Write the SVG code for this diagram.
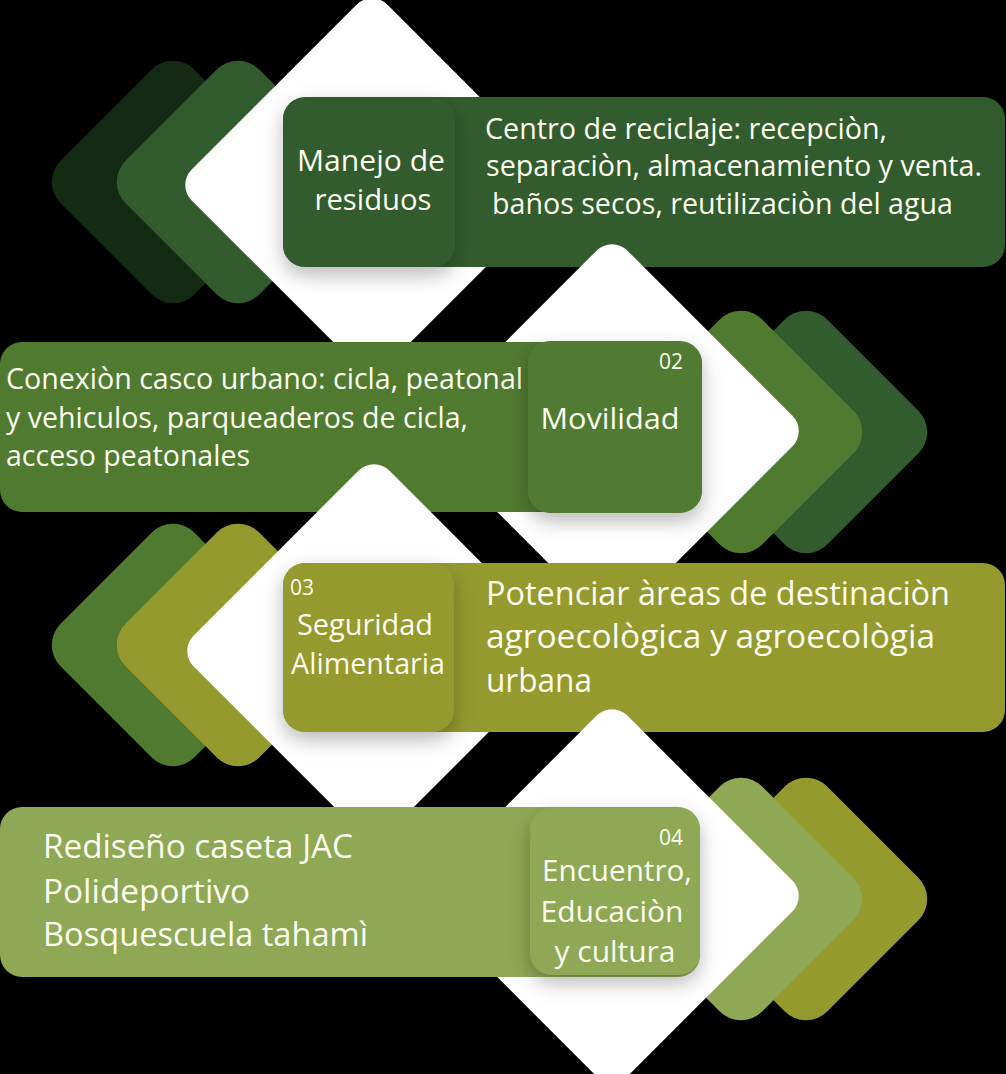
<svg xmlns="http://www.w3.org/2000/svg" width="1006" height="1074" viewBox="0 0 1006 1074">
<defs>
<style>
.t{font-family:"Open Sans","Noto Sans","Liberation Sans",sans-serif;fill:#fbfbee}
.d{font-size:29px}
.d2{font-size:32px}
.h{font-size:29px;text-anchor:middle}
.n{font-size:21px}
.white{fill:#ffffff}
.g0{fill:#142a13}
.g1{fill:#335c2e}
.g2{fill:#517a31}
.g3{fill:#949a2e}
.g4{fill:#8fa855}
</style>
<filter id="sh" x="-30%" y="-30%" width="160%" height="170%">
<feDropShadow dx="0" dy="8" stdDeviation="10" flood-color="#000" flood-opacity="0.28"/>
</filter>
<rect id="chev" x="-94.5" y="-94.5" width="189" height="189" rx="30"/>
<rect id="dia" x="-138.5" y="-138.5" width="277" height="277" rx="22"/>
</defs>
<rect width="1006" height="1074" fill="#000"/>

<g id="row1">
<use href="#chev" class="g0" transform="translate(173,182) rotate(45)"/>
<use href="#chev" class="g1" transform="translate(238,182) rotate(45)"/>
<use href="#dia" class="white" transform="translate(372,185) rotate(45)"/>
<g id="desc1">
<rect x="283" y="97" width="722" height="170" rx="22" class="g1"/>
<text class="t d" x="485" y="139" textLength="402" lengthAdjust="spacingAndGlyphs">Centro de reciclaje: recepciòn,</text>
<text class="t d" x="486" y="176" textLength="496" lengthAdjust="spacingAndGlyphs">separaciòn, almacenamiento y venta.</text>
<text class="t d" x="492" y="214" textLength="461" lengthAdjust="spacingAndGlyphs">baños secos, reutilizaciòn del agua</text>
</g>
<g id="title1">
<rect x="283" y="98" width="172" height="169" rx="22" class="g1" filter="url(#sh)"/>
<text class="t h" x="371" y="171" textLength="148" lengthAdjust="spacingAndGlyphs">Manejo de</text>
<text class="t h" x="373" y="210" textLength="117" lengthAdjust="spacingAndGlyphs">residuos</text>
</g>
</g>

<g id="row2">
<use href="#chev" class="g1" transform="translate(806,432) rotate(45)"/>
<use href="#chev" class="g2" transform="translate(741,432) rotate(45)"/>
<use href="#dia" class="white" transform="translate(612,431) rotate(45)"/>
<g id="desc2">
<rect x="0" y="342" width="702" height="170" rx="22" class="g2"/>
<text class="t d" x="6" y="389" textLength="517" lengthAdjust="spacingAndGlyphs">Conexiòn casco urbano: cicla, peatonal</text>
<text class="t d" x="6" y="428" textLength="462" lengthAdjust="spacingAndGlyphs">y vehiculos, parqueaderos de cicla,</text>
<text class="t d" x="6" y="466" textLength="244" lengthAdjust="spacingAndGlyphs">acceso peatonales</text>
</g>
<g id="title2">
<rect x="528" y="341" width="174" height="172" rx="22" class="g2" filter="url(#sh)"/>
<text class="t n" x="683" y="369" text-anchor="end">02</text>
<text class="t h" x="610" y="429" textLength="139" lengthAdjust="spacingAndGlyphs">Movilidad</text>
</g>
</g>

<g id="row3">
<use href="#chev" class="g2" transform="translate(173,645) rotate(45)"/>
<use href="#chev" class="g3" transform="translate(238,645) rotate(45)"/>
<use href="#dia" class="white" transform="translate(374,651) rotate(45)"/>
<g id="desc3">
<rect x="283" y="563" width="722" height="169" rx="22" class="g3"/>
<text class="t d2" x="486" y="605" textLength="464" lengthAdjust="spacingAndGlyphs">Potenciar àreas de destinaciòn</text>
<text class="t d2" x="486" y="648" textLength="449" lengthAdjust="spacingAndGlyphs">agroecològica y agroecològia</text>
<text class="t d2" x="486" y="692" textLength="106" lengthAdjust="spacingAndGlyphs">urbana</text>
</g>
<g id="title3">
<rect x="283" y="563" width="171" height="169" rx="22" class="g3" filter="url(#sh)"/>
<text class="t n" x="290" y="595">03</text>
<text class="t h" x="365" y="635" font-size="27" textLength="136" lengthAdjust="spacingAndGlyphs">Seguridad</text>
<text class="t h" x="368" y="674" font-size="27" textLength="154" lengthAdjust="spacingAndGlyphs">Alimentaria</text>
</g>
</g>

<g id="row4">
<use href="#chev" class="g3" transform="translate(806,899) rotate(45)"/>
<use href="#chev" class="g4" transform="translate(741,899) rotate(45)"/>
<use href="#dia" class="white" transform="translate(612,896) rotate(45)"/>
<g id="desc4">
<rect x="0" y="807" width="700" height="170" rx="22" class="g4"/>
<text class="t d2" x="43" y="858" textLength="310" lengthAdjust="spacingAndGlyphs">Rediseño caseta JAC</text>
<text class="t d2" x="43" y="903" textLength="207" lengthAdjust="spacingAndGlyphs">Polideportivo</text>
<text class="t d2" x="43" y="946" textLength="325" lengthAdjust="spacingAndGlyphs">Bosquescuela tahamì</text>
</g>
<g id="title4">
<rect x="530" y="808" width="170" height="167" rx="22" class="g4" filter="url(#sh)"/>
<text class="t n" x="683" y="845" text-anchor="end">04</text>
<text class="t h" x="617" y="881" textLength="150" lengthAdjust="spacingAndGlyphs">Encuentro,</text>
<text class="t h" x="612" y="922" textLength="143" lengthAdjust="spacingAndGlyphs">Educaciòn</text>
<text class="t h" x="615" y="962" textLength="121" lengthAdjust="spacingAndGlyphs">y cultura</text>
</g>
</g>
<g id="connectors"></g>
</svg>
